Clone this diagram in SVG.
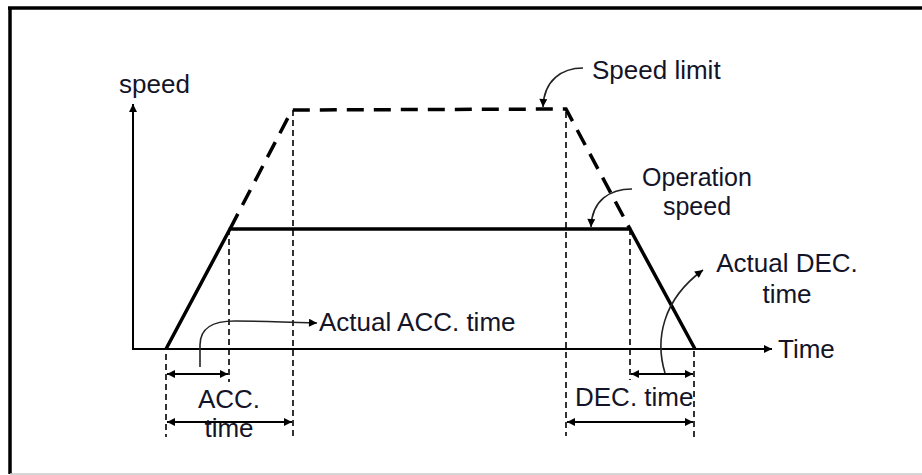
<svg xmlns="http://www.w3.org/2000/svg" width="922" height="475" viewBox="0 0 922 475">
<style>
text{font-family:"Liberation Sans",Arial,sans-serif;font-size:26px;fill:#141428}
.tight{font-size:25px}
.axis{stroke:#000;stroke-width:2;fill:none}
.thick{stroke:#000;stroke-width:3.5;fill:none}
.dash{stroke:#000;stroke-width:3.5;fill:none;stroke-dasharray:17 10}
.guide{stroke:#000;stroke-width:1.6;fill:none;stroke-dasharray:6 4}
.dim{stroke:#000;stroke-width:2;fill:none;marker-start:url(#ah);marker-end:url(#ah)}
.note{stroke:#222;stroke-width:1.6;fill:none;marker-end:url(#ah2)}
</style>
<defs>
<marker id="ah" viewBox="0 0 10 10" refX="10" refY="5" markerWidth="10" markerHeight="8" markerUnits="userSpaceOnUse" orient="auto-start-reverse"><path d="M0,0 L10,5 L0,10 Z" fill="#000"/></marker>
<marker id="ah2" viewBox="0 0 10 10" refX="10" refY="5" markerWidth="10" markerHeight="8" markerUnits="userSpaceOnUse" orient="auto"><path d="M0,0 L10,5 L0,10 Z" fill="#000"/></marker>
<marker id="ax" viewBox="0 0 10 10" refX="10" refY="5" markerWidth="11" markerHeight="8" markerUnits="userSpaceOnUse" orient="auto"><path d="M0,0 L10,5 L0,10 Z" fill="#000"/></marker>
</defs>
<g id="frame">
<line x1="8" y1="8" x2="922" y2="8" stroke="#000" stroke-width="3.5"/>
<line x1="10" y1="7" x2="10" y2="474" stroke="#000" stroke-width="3.5"/>
<line x1="10" y1="474" x2="922" y2="474" stroke="#c8c8c8" stroke-width="1.5"/>
</g>
<g id="axes">
<line class="axis" x1="133" y1="349" x2="133" y2="104" marker-end="url(#ax)"/>
<line class="axis" x1="132" y1="349" x2="772" y2="349" marker-end="url(#ax)"/>
<text x="119" y="93">speed</text>
<text x="778" y="358">Time</text>
</g>
<g id="connectors">
<path id="speed-limit-profile" class="dash" d="M230,229 L292,110 L566,109 L630,229"/>
<path id="operation-profile" class="thick" d="M166,349 L230,229 L630,229 L695,349"/>
<line class="guide" x1="166" y1="354" x2="166" y2="437"/>
<line class="guide" x1="229" y1="229" x2="229" y2="382"/>
<line class="guide" x1="293" y1="110" x2="293" y2="436"/>
<line class="guide" x1="566" y1="112" x2="566" y2="436"/>
<line class="guide" x1="630" y1="229" x2="630" y2="380"/>
<line class="guide" x1="694" y1="351" x2="694" y2="437"/>
<line class="dim" x1="167" y1="374" x2="228" y2="374"/>
<line class="dim" x1="167" y1="422" x2="292" y2="422"/>
<line class="dim" x1="631" y1="374" x2="693" y2="374"/>
<line class="dim" x1="567" y1="422" x2="693" y2="422"/>
<path class="note" d="M583,68 C562,68 544,80 543,107"/>
<path class="note" d="M632,189 C610,189 592,200 591,227"/>
<path class="note" d="M200,367 L200,345 C200,328 212,321 235,321 C260,321 290,322 317,323"/>
<path class="note" d="M665,373 C655,340 662,300 703,270"/>
</g>
<g id="labels">
<text x="592" y="79">Speed limit</text>
<text class="tight" x="697" y="186" text-anchor="middle">Operation</text>
<text class="tight" x="697" y="215" text-anchor="middle">speed</text>
<text x="319" y="331">Actual ACC. time</text>
<text x="787" y="272" text-anchor="middle">Actual DEC.</text>
<text x="787" y="303" text-anchor="middle">time</text>
<text x="229" y="408" text-anchor="middle">ACC.</text>
<text x="229" y="437" text-anchor="middle">time</text>
<text x="575" y="406">DEC. time</text>
</g>
</svg>
